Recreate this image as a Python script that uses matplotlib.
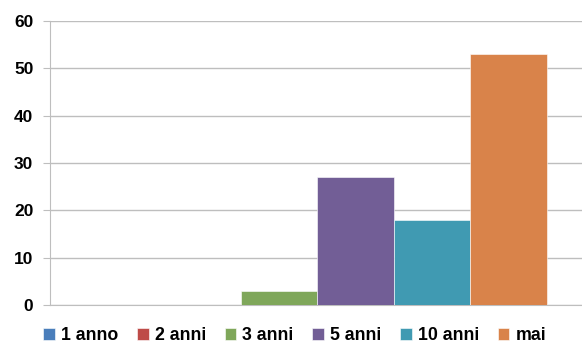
import matplotlib.pyplot as plt
import numpy as np

plt.rcParams['font.family'] = ['Liberation Sans', 'DejaVu Sans']
plt.rcParams['font.weight'] = 'bold'

series = ['1 anno', '2 anni', '3 anni', '5 anni', '10 anni', 'mai']
values = [0, 0, 3, 27, 18, 53]
colors = ['#4A7EBB', '#BE4B48', '#7FA75A', '#725E96', '#409AB2', '#D9834A']

fig = plt.figure(figsize=(5.82, 3.45), dpi=100)
ax = fig.add_axes([0.086, 0.116, 0.914, 0.823])

bar_w = 1.0
n = len(series)
x_pos = (np.arange(n) - (n - 1) / 2) * bar_w
for x, v, c, s in zip(x_pos, values, colors, series):
    ax.bar(x, v, bar_w, color=c, edgecolor='white', linewidth=0.4, label=s, zorder=3)

ax.set_xlim(-3.49, 3.46)
ax.set_ylim(0, 60)
ax.set_yticks(np.arange(0, 61, 10))
ax.set_xticks([])
ax.grid(True, axis='y', color='#BEBEBE', linewidth=1, zorder=0)
for side in ['top', 'right']:
    ax.spines[side].set_visible(False)
ax.spines['left'].set_color('#BEBEBE')
ax.spines['bottom'].set_color('#BEBEBE')
ax.tick_params(axis='y', length=5, color='#BEBEBE', labelsize=12.5, pad=7)
for lbl in ax.get_yticklabels():
    lbl.set_fontweight('bold')

ax.legend(loc='upper center', bbox_to_anchor=(0.46, -0.052), ncol=n, frameon=False,
          fontsize=12.8, handlelength=0.65, handleheight=0.65, handletextpad=0.35,
          columnspacing=1.05, borderaxespad=0)

fig.savefig('out.png', dpi=100)
